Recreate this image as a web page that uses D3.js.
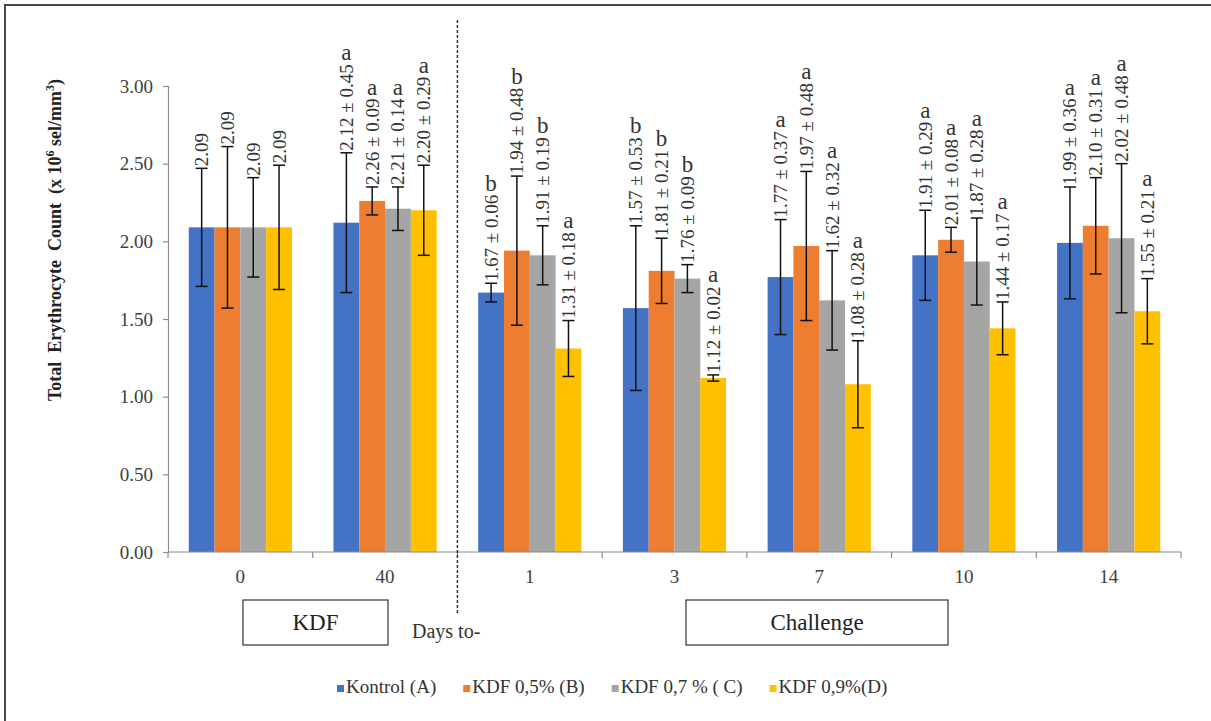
<!DOCTYPE html>
<html>
<head>
<meta charset="utf-8">
<script src="https://cdn.jsdelivr.net/npm/d3@7"></script>
<style>
  html, body { margin: 0; padding: 0; background: #fff; }
  svg { display: block; }
  svg text { font-family: "Liberation Serif", "Times New Roman", Tinos, "DejaVu Serif", "Noto Serif", serif; }
</style>
</head>
<body>
<svg id="chart" width="1211" height="721"></svg>
<script>
// Days of sampling: two during KDF feeding, five after the challenge
const days = ["0", "40", "1", "3", "7", "10", "14"];
const seriesNames = ["Kontrol (A)", "KDF 0,5% (B)", "KDF 0,7 % ( C)", "KDF 0,9%(D)"];
const seriesColors = ["#4472C4", "#ED7D31", "#A5A5A5", "#FFC000"];

// Mean erythrocyte count (x 10^6 sel/mm^3)
const kontrol = [2.09, 2.12, 1.67, 1.57, 1.77, 1.91, 1.99];
const kdf05   = [2.09, 2.26, 1.94, 1.81, 1.97, 2.01, 2.10];
const kdf07   = [2.09, 2.21, 1.91, 1.76, 1.62, 1.87, 2.02];
const kdf09   = [2.09, 2.20, 1.31, 1.12, 1.08, 1.44, 1.55];

// Standard deviations
const sdKontrol = [0.38, 0.45, 0.06, 0.53, 0.37, 0.29, 0.36];
const sdKdf05   = [0.52, 0.09, 0.48, 0.21, 0.48, 0.08, 0.31];
const sdKdf07   = [0.32, 0.14, 0.19, 0.09, 0.32, 0.28, 0.48];
const sdKdf09   = [0.40, 0.29, 0.18, 0.02, 0.28, 0.17, 0.21];

// Significance letters (day 0 is the baseline, no letter)
const letKontrol = ["", "a", "b", "b", "a", "a", "a"];
const letKdf05   = ["", "a", "b", "b", "a", "a", "a"];
const letKdf07   = ["", "a", "b", "b", "a", "a", "a"];
const letKdf09   = ["", "a", "a", "a", "a", "a", "a"];

const yTicks = [0, 0.5, 1.0, 1.5, 2.0, 2.5, 3.0];

const means = [kontrol, kdf05, kdf07, kdf09];
const sds = [sdKontrol, sdKdf05, sdKdf07, sdKdf09];
const letters = [letKontrol, letKdf05, letKdf07, letKdf09];

const rows = [];
days.forEach((d, i) => {
  seriesNames.forEach((s, j) => {
    rows.push({ day: d, series: s, j, mean: means[j][i], sd: sds[j][i], letter: letters[j][i] });
  });
});

const svg = d3.select("#chart");

// frame
svg.append("path")
  .attr("d", "M5,721 L5,5 L1211,5")
  .attr("fill", "none").attr("stroke", "#4a4a4a").attr("stroke-width", 2);

const plotLeft = 168, plotRight = 1181, plotTop = 86, plotBottom = 552;

const x0 = d3.scaleBand().domain(days).range([plotLeft, plotRight])
  .paddingInner(0.287).paddingOuter(0.1435);
const x1 = d3.scaleBand().domain(seriesNames).range([0, x0.bandwidth()]);
const y = d3.scaleLinear().domain([0, 3]).range([plotBottom, plotTop]);

// y axis
const yAxis = svg.append("g").attr("transform", `translate(${plotLeft},0)`)
  .call(d3.axisLeft(y).tickValues(yTicks).tickFormat(d3.format(".2f")).tickSize(5).tickPadding(10));
yAxis.attr("font-family", null);
yAxis.select(".domain").attr("stroke", "#8c8c8c").attr("stroke-width", 1.2);
yAxis.selectAll(".tick line").attr("stroke", "#8c8c8c").attr("stroke-width", 1.2);
yAxis.selectAll(".tick text").attr("font-size", 19).attr("fill", "#404040");

// bars
svg.append("g").selectAll("rect").data(rows).join("rect")
  .attr("x", d => x0(d.day) + x1(d.series))
  .attr("y", d => y(d.mean))
  .attr("width", x1.bandwidth())
  .attr("height", d => y(0) - y(d.mean))
  .attr("fill", d => seriesColors[d.j]);

// x axis line with ticks at category boundaries
const xAxis = svg.append("g");
xAxis.append("line")
  .attr("x1", plotLeft).attr("x2", plotRight).attr("y1", plotBottom).attr("y2", plotBottom)
  .attr("stroke", "#8c8c8c").attr("stroke-width", 1.2);
xAxis.selectAll("line.tk").data(d3.range(days.length + 1)).join("line").attr("class", "tk")
  .attr("x1", i => plotLeft + i * x0.step()).attr("x2", i => plotLeft + i * x0.step())
  .attr("y1", plotBottom).attr("y2", plotBottom + 6)
  .attr("stroke", "#8c8c8c").attr("stroke-width", 1.2);
xAxis.selectAll("text").data(days).join("text")
  .attr("x", d => x0(d) + x0.bandwidth() / 2)
  .attr("y", 583)
  .attr("text-anchor", "middle")
  .attr("font-size", 19).attr("fill", "#404040")
  .text(d => d);

// error bars
const eb = svg.append("g").attr("stroke", "#111").attr("stroke-width", 1.5);
rows.forEach(d => {
  const cx = x0(d.day) + x1(d.series) + x1.bandwidth() / 2;
  const top = y(d.mean + d.sd), bot = y(d.mean - d.sd);
  eb.append("line").attr("x1", cx).attr("x2", cx).attr("y1", top).attr("y2", bot);
  eb.append("line").attr("x1", cx - 6).attr("x2", cx + 6).attr("y1", top).attr("y2", top);
  eb.append("line").attr("x1", cx - 6).attr("x2", cx + 6).attr("y1", bot).attr("y2", bot);
});

// value labels (rotated) with significance letters above
const lab = svg.append("g");
rows.forEach(d => {
  const cx = x0(d.day) + x1(d.series) + x1.bandwidth() / 2;
  const top = y(d.mean + d.sd) - 2;
  const txt = d.letter ? `${d.mean.toFixed(2)} \u00B1 ${d.sd.toFixed(2)}` : d.mean.toFixed(2);
  const t = lab.append("text")
    .attr("transform", `translate(${cx},${top}) rotate(-90)`)
    .attr("dominant-baseline", "central")
    .attr("font-size", 19).attr("fill", "#333")
    .text(txt);
  const len = t.node().getComputedTextLength();
  if (d.letter) {
    lab.append("text")
      .attr("x", cx).attr("y", top - len - 4)
      .attr("text-anchor", "middle")
      .attr("font-size", 23).attr("fill", "#333")
      .text(d.letter);
  }
});

// divider between feeding and challenge periods
const divX = plotLeft + 2 * x0.step();
svg.append("line")
  .attr("x1", divX).attr("x2", divX).attr("y1", 20).attr("y2", 615)
  .attr("stroke", "#333").attr("stroke-width", 1.5).attr("stroke-dasharray", "3,2");

// period boxes
const boxes = [
  { label: "KDF", x: 243, w: 145 },
  { label: "Challenge", x: 686, w: 262 }
];
boxes.forEach(b => {
  svg.append("rect").attr("x", b.x).attr("y", 600).attr("width", b.w).attr("height", 45)
    .attr("fill", "#fff").attr("stroke", "#333").attr("stroke-width", 1.2);
  svg.append("text").attr("x", b.x + b.w / 2).attr("y", 630)
    .attr("text-anchor", "middle").attr("font-size", 23).attr("fill", "#222")
    .text(b.label);
});
svg.append("text").attr("x", 412).attr("y", 638)
  .attr("font-size", 20).attr("fill", "#333").text("Days to-");

// y axis title
const yt = svg.append("text")
  .attr("transform", "translate(61,240) rotate(-90)")
  .attr("text-anchor", "middle")
  .attr("font-size", 18).attr("font-weight", "bold").attr("fill", "#222")
  .style("white-space", "pre");
yt.append("tspan").text("Total  Erythrocyte  Count  (x 10");
yt.append("tspan").attr("baseline-shift", "super").attr("font-size", 12).text("6");
yt.append("tspan").text(" sel/mm");
yt.append("tspan").attr("baseline-shift", "super").attr("font-size", 12).text("3");
yt.append("tspan").text(")");

// legend
const leg = svg.append("g");
let lx = 337;
seriesNames.forEach((s, j) => {
  leg.append("rect").attr("x", lx).attr("y", 685).attr("width", 7).attr("height", 7).attr("fill", seriesColors[j]);
  const t = leg.append("text").attr("x", lx + 9).attr("y", 693)
    .attr("font-size", 19).attr("fill", "#333").style("white-space", "pre").text(s);
  lx += 9 + t.node().getComputedTextLength() + 27;
});
</script>
</body>
</html>
